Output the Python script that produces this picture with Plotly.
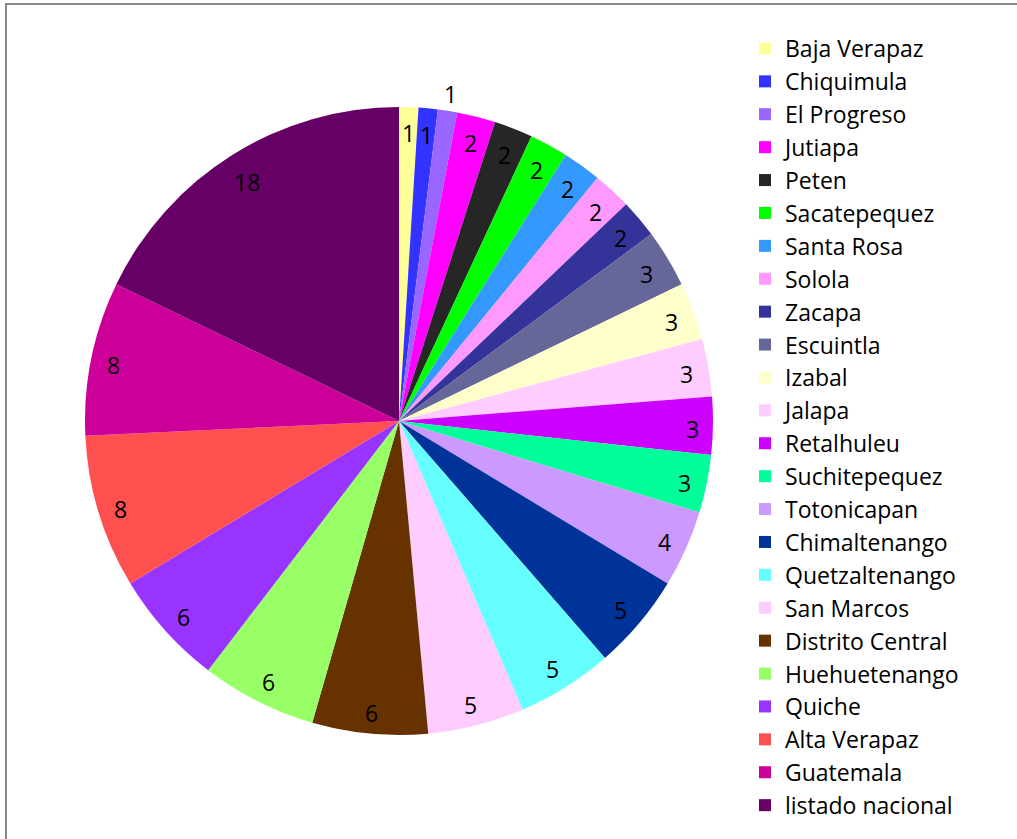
import math
import plotly.graph_objects as go

labels = ["Baja Verapaz", "Chiquimula", "El Progreso", "Jutiapa", "Peten", "Sacatepequez",
          "Santa Rosa", "Solola", "Zacapa", "Escuintla", "Izabal", "Jalapa", "Retalhuleu",
          "Suchitepequez", "Totonicapan", "Chimaltenango", "Quetzaltenango", "San Marcos",
          "Distrito Central", "Huehuetenango", "Quiche", "Alta Verapaz", "Guatemala",
          "listado nacional"]
values = [1, 1, 1, 2, 2, 2, 2, 2, 2, 3, 3, 3, 3, 3, 4, 5, 5, 5, 6, 6, 6, 8, 8, 18]
colors = ["#FFFF99", "#3333FF", "#9966FF", "#FF00FF", "#262626", "#00FF00", "#3399FF",
          "#FF99FF", "#333399", "#666699", "#FFFFCC", "#FFCCFF", "#CC00FF", "#00FF99",
          "#CC99FF", "#003399", "#66FFFF", "#FFCCFF", "#663300", "#99FF66", "#9933FF",
          "#FF5050", "#CC0099", "#660066"]
outside_labels = ["El Progreso"]

W, H = 1017, 839
CX, CY, R = 399, 421, 314          # pie centre / radius in pixels (layout)
FONT = "Open Sans"
FS = 23

fig = go.Figure(go.Pie(
    labels=labels, values=values, sort=False, direction="clockwise", rotation=0,
    marker=dict(colors=colors, line=dict(width=0)),
    textinfo="none",
    domain=dict(x=[(CX - R) / W, (CX + R) / W], y=[1 - (CY + R) / H, 1 - (CY - R) / H]),
    hoverinfo="label+value",
))

# data labels placed at the "inside end" of each slice (or just outside)
total = sum(values)
annotations = []
cum = 0.0
for lab, v in zip(labels, values):
    mid = (cum + v / 2) / total * 2 * math.pi
    cum += v
    s, c = math.sin(mid), math.cos(mid)
    txt = str(v)
    if lab in outside_labels:
        r = R + 20
    else:
        extent = 6.5 * len(txt) * abs(s) + 9 * abs(c)
        r = R - 14 - extent
    px, py = CX + r * s, CY - r * c + 3
    annotations.append(dict(x=px / W, y=1 - py / H, xref="paper", yref="paper",
                            text=txt, showarrow=False, xanchor="center", yanchor="middle",
                            font=dict(family=FONT, size=FS, color="black")))

fig.update_layout(
    width=W, height=H,
    margin=dict(l=0, r=0, t=0, b=0),
    paper_bgcolor="white",
    font=dict(family=FONT, size=FS, color="black"),
    showlegend=True,
    legend=dict(x=745 / W, y=1 - 27 / H, xanchor="left", yanchor="top",
                traceorder="normal", font=dict(size=FS), itemwidth=30),
    annotations=annotations,
    shapes=[dict(type="rect", xref="paper", yref="paper",
                 x0=6 / W, x1=1.2, y0=-0.2, y1=1 - 4 / H,
                 line=dict(color="#888888", width=2))],
)

fig.write_html("out.html", config={"displayModeBar": False},
               post_script="document.body.style.margin='0';")
